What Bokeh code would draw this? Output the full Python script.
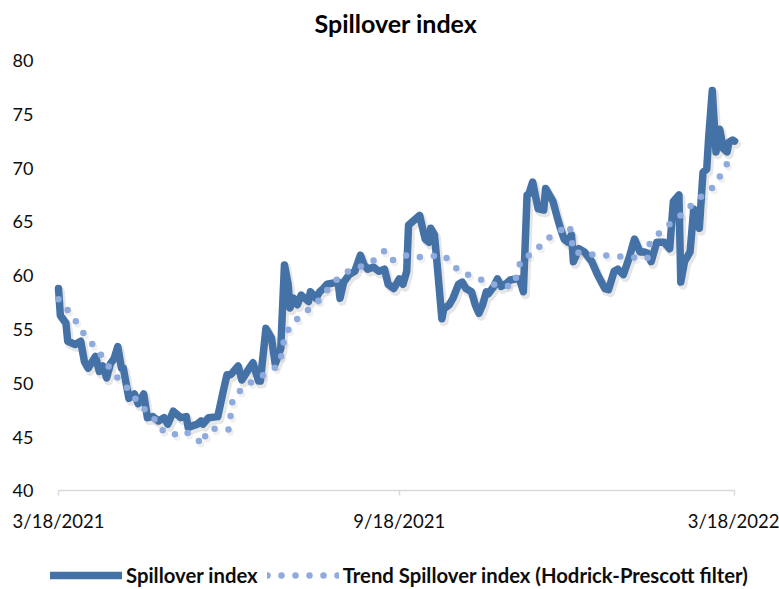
import datetime as dt
from bokeh.plotting import figure
from bokeh.models import FixedTicker, Range1d, Legend, LegendItem
from bokeh.embed import file_html
from bokeh.resources import INLINE

# ---------------- data ----------------
start_date = dt.datetime(2021, 3, 18)

spill_days = [0, 1, 4, 5, 9, 12, 14, 16, 20, 22, 24, 26, 28, 30, 32, 34, 35, 38, 41, 43,
              46, 48, 51, 54, 57, 59, 62, 66, 69, 70, 75, 77, 78, 81, 86, 89, 91, 93, 97, 99,
              103, 105, 108, 109, 112, 115, 117, 120, 122, 124, 125, 127, 129, 131, 135, 136, 139, 141, 143, 145,
              148, 151, 152, 154, 157, 160, 163, 165, 167, 170, 173, 176, 178, 181, 184, 186, 188, 189, 191, 195,
              197, 198, 200, 201, 203, 204, 207, 208, 211, 213, 216, 218, 220, 223, 225, 227, 229, 231, 232, 235,
              237, 239, 242, 244, 247, 249, 251, 253, 254, 256, 259, 262, 263, 265, 267, 269, 270, 271, 273, 275,
              277, 278, 281, 284, 288, 291, 295, 297, 300, 302, 305, 308, 311, 314, 316, 318, 320, 323, 327, 330,
              332, 335, 336, 338, 341, 343, 345, 346, 348, 350, 351, 353, 355, 357, 359, 361, 362, 364, 365]
spill_values = [58.8, 56.3, 55.6, 53.9, 53.6, 53.9, 52.0, 51.4, 52.5, 51.1, 51.6, 50.5, 51.8, 52.3, 53.4, 51.4, 51.4, 48.6, 49.0, 48.1,
                49.0, 46.8, 46.9, 46.5, 46.8, 46.2, 47.4, 46.8, 46.9, 45.9, 46.2, 46.5, 46.2, 46.8, 46.9, 49.3, 50.8, 50.8, 51.6, 50.3,
                51.4, 51.9, 50.2, 50.2, 55.1, 54.2, 51.8, 53.2, 61.0, 59.2, 57.0, 57.9, 57.3, 58.2, 57.6, 58.5, 57.9, 58.5, 58.8, 59.2,
                59.3, 59.4, 57.9, 59.4, 60.1, 60.4, 61.9, 61.0, 60.6, 60.8, 60.4, 60.6, 59.2, 58.8, 59.7, 59.2, 60.4, 64.7, 65.0, 65.6,
                64.1, 63.4, 63.1, 64.4, 63.8, 61.9, 56.0, 56.9, 57.3, 57.9, 59.2, 59.4, 58.8, 58.5, 57.3, 56.5, 57.3, 58.5, 58.3, 59.0,
                59.7, 59.0, 59.3, 59.6, 59.7, 59.7, 58.5, 67.5, 67.6, 68.7, 66.2, 66.1, 68.1, 67.5, 66.9, 65.6, 65.0, 64.4, 63.4, 63.1,
                63.8, 61.3, 62.5, 62.2, 61.3, 60.1, 58.8, 58.7, 60.4, 60.6, 60.1, 61.6, 63.4, 62.2, 62.2, 62.1, 61.3, 63.1, 63.1, 62.5,
                66.9, 67.5, 59.4, 61.3, 62.2, 66.2, 65.3, 64.4, 69.6, 69.9, 72.7, 77.2, 71.5, 73.6, 71.8, 71.5, 72.4, 72.6, 72.5]

trend_days = [0, 5, 10, 14, 19, 24, 28, 33, 38, 43, 48, 54, 57, 62, 67, 72, 78, 80, 85, 92,
              93, 94, 99, 105, 112, 119, 121, 122, 126, 132, 138, 143, 148, 154, 159, 164, 170, 176, 180, 187,
              192, 200, 208, 212, 217, 225, 232, 240, 246, 248, 250, 257, 262, 269, 276, 277, 278, 286, 294, 302,
              310, 318, 319, 324, 330, 336, 342, 348, 354, 358, 362, 364]
trend_values = [57.8, 56.8, 55.6, 54.5, 53.5, 52.4, 51.3, 50.3, 49.4, 48.2, 47.3, 46.3, 45.4, 45.2, 45.6, 45.2, 44.3, 45.6, 45.8, 45.7,
                47.1, 48.5, 49.5, 50.2, 50.9, 51.7, 53.0, 54.4, 55.5, 56.5, 57.2, 58.2, 59.3, 60.2, 60.6, 60.9, 61.4, 62.3, 61.4, 61.9,
                61.7, 61.8, 61.9, 61.2, 60.3, 59.9, 59.3, 59.0, 59.1, 60.5, 61.6, 62.1, 63.2, 64.0, 64.7, 63.5, 62.2, 62.0, 61.9, 61.8,
                61.7, 61.6, 62.9, 63.9, 64.8, 65.6, 66.6, 67.5, 68.3, 69.5, 70.7, 71.2]

tick_dates = [dt.datetime(2021, 3, 18), dt.datetime(2021, 9, 18), dt.datetime(2022, 3, 18)]
tick_labels = ["3/18/2021", "9/18/2021", "3/18/2022"]
y_ticks = [40, 45, 50, 55, 60, 65, 70, 75, 80]

series_names = ["Spillover index", "Trend Spillover index (Hodrick-Prescott filter)"]
title_text = "Spillover index"

# ---------------- build ----------------
spill_x = [start_date + dt.timedelta(days=d) for d in spill_days]
trend_x = [start_date + dt.timedelta(days=d) for d in trend_days]

def to_ms(d):
    return (d - dt.datetime(1970, 1, 1)).total_seconds() * 1000.0

DAY = 86400000.0
t0, t1 = to_ms(tick_dates[0]), to_ms(tick_dates[-1])
v0, v1 = y_ticks[0], y_ticks[-1]

W, H = 779, 589
TOP = 40                      # frame top (title sits above)
ax_left, ax_right = 58, 734   # pixel position of first / last date tick
ax_top, ax_bottom = 58, 490   # pixel position of 80 / 40
pxd = (ax_right - ax_left) / ((t1 - t0) / DAY)
pxv = (ax_bottom - ax_top) / (v1 - v0)

# the frame covers the whole area below the title; axes are pinned in place
x_range = Range1d(t0 - ax_left / pxd * DAY, t1 + (W - ax_right) / pxd * DAY)
y_range = Range1d(v0 - (H - ax_bottom) / pxv, v1 + (ax_top - TOP) / pxv)

p = figure(width=W, height=H, x_axis_type="datetime", output_backend="svg",
           toolbar_location=None, x_range=x_range, y_range=y_range,
           min_border_left=0, min_border_right=0, min_border_top=TOP, min_border_bottom=0)

# shadow ranges (shift rendering a few pixels right/down)
dx = 2 / pxd * DAY
dy = 3 / pxv
p.extra_x_ranges = {"sh": Range1d(x_range.start - dx, x_range.end - dx)}
p.extra_y_ranges = {"sh": Range1d(y_range.start + dy, y_range.end + dy)}

font = "Lato"
p.title.text = title_text
p.title.align = "left"
p.title.offset = 314
p.title.text_font = font
p.title.text_font_size = "25px"
p.title.text_font_style = "bold"
p.title.text_color = "#000000"

p.xgrid.visible = False
p.ygrid.visible = False
p.outline_line_color = None
p.background_fill_color = "white"
p.border_fill_color = "white"

# shadows
p.line(spill_x, spill_values, line_width=9, color="#808080", alpha=0.2,
       line_join="round", line_cap="round", x_range_name="sh", y_range_name="sh")
p.line(trend_x, trend_values, line_width=7, color="#808080", alpha=0.12,
       line_dash="0 14", line_cap="round", x_range_name="sh", y_range_name="sh")

main_color = "#4472A6"
trend_color = "#8FAADC"
r_main = p.line(spill_x, spill_values, line_width=7.5, color=main_color,
                line_join="round", line_cap="round")
r_trend = p.line(trend_x, trend_values, line_width=6.5, color=trend_color,
                 line_dash="0 14", line_cap="round", line_join="round")

# axes
xa = p.xaxis[0]
xa.fixed_location = v0
xa.ticker = FixedTicker(ticks=[to_ms(d) for d in tick_dates])
xa.major_label_overrides = {to_ms(d): lab for d, lab in zip(tick_dates, tick_labels)}
xa.axis_line_color = "#D9D9D9"
xa.axis_line_width = 1.5
xa.major_tick_line_color = "#D9D9D9"
xa.major_tick_line_width = 1.5
xa.major_tick_in = 0
xa.major_tick_out = 5
xa.minor_tick_line_color = None
xa.major_label_standoff = 14
xa.major_label_text_font = font
xa.major_label_text_font_size = "18.5px"
xa.major_label_text_color = "#0d0d0d"
xa.bounds = (t0, t1)

ya = p.yaxis[0]
ya.fixed_location = t0
ya.ticker = FixedTicker(ticks=y_ticks)
ya.axis_line_color = None
ya.major_tick_line_color = None
ya.minor_tick_line_color = None
ya.major_label_standoff = 19
ya.major_label_text_font = font
ya.major_label_text_font_size = "18px"
ya.major_label_text_color = "#0d0d0d"

legend = Legend(items=[LegendItem(label=series_names[0], renderers=[r_main]),
                       LegendItem(label=series_names[1], renderers=[r_trend])],
                orientation="horizontal", location=(50, 2))
legend.label_text_font = font
legend.label_text_font_size = "20.3px"
legend.label_text_font_style = "bold"
legend.label_text_color = "#0d0d0d"
legend.glyph_width = 72
legend.glyph_height = 20
legend.label_standoff = 4
legend.spacing = 9
legend.padding = 0
legend.margin = 0
legend.border_line_color = None
legend.background_fill_alpha = 0
p.add_layout(legend)

open("out.html", "w").write(file_html(p, INLINE))
